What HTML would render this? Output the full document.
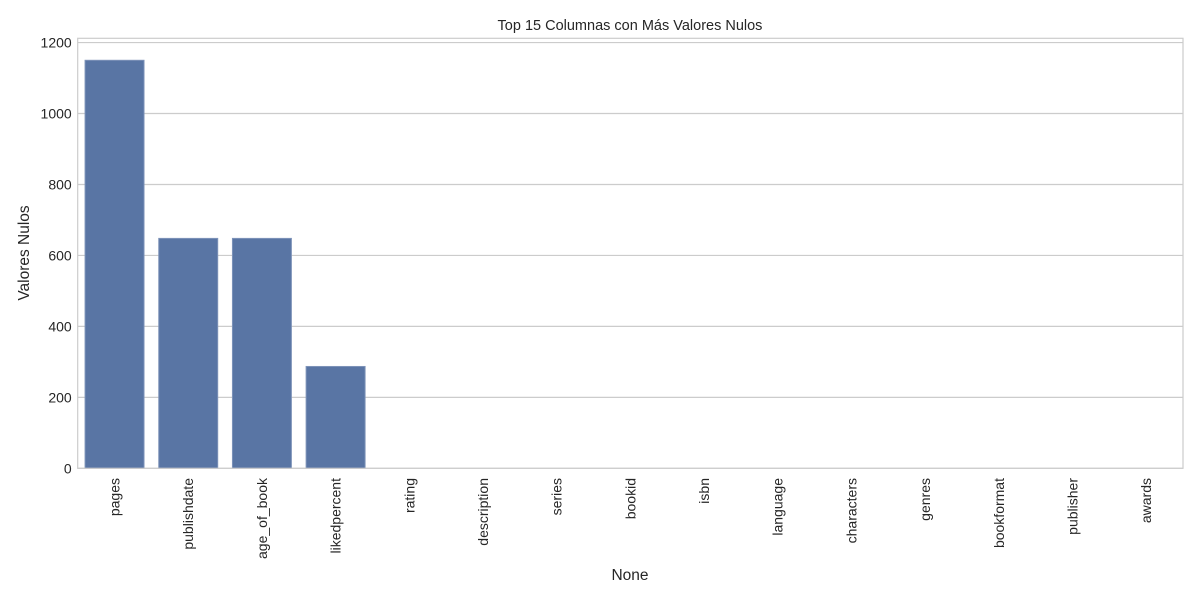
<!DOCTYPE html>
<html><head><meta charset="utf-8"><style>
body{margin:0;background:#fff;font-family:"Liberation Sans",Arial,sans-serif}
svg text{font-family:"Liberation Sans",Arial,sans-serif;fill:#262626}
</style></head><body>
<svg id="chart" width="1200" height="600" xmlns="http://www.w3.org/2000/svg">
<rect width="1200" height="600" fill="#fff"/>
<text x="630" y="30" font-size="14.5" text-anchor="middle">Top 15 Columnas con Más Valores Nulos</text>
<text x="630" y="580" font-size="15.5" text-anchor="middle">None</text>
<text transform="translate(29,253) rotate(-90)" font-size="15.5" text-anchor="middle">Valores Nulos</text>
<g id="grid"></g><g id="bars"></g><g id="ticks"></g>
<rect x="77.7" y="38.3" width="1105.3" height="430" fill="none" stroke="#cccccc" stroke-width="1.2"/>
</svg>
<script>
const categories=["pages","publishdate","age_of_book","likedpercent","rating","description","series","bookid","isbn","language","characters","genres","bookformat","publisher","awards"];
const values=[1150,648,648,287,0,0,0,0,0,0,0,0,0,0,0];
const yTicks=[0,200,400,600,800,1000,1200];
const L=77.7,R=1183,T=38.3,B=468.3,yMax=1212;
const ns="http://www.w3.org/2000/svg";
function y(v){return B-(v/yMax)*(B-T);}
const slot=(R-L)/categories.length;
function x(i){return L+slot*i;}
function mk(t,a,p){const e=document.createElementNS(ns,t);for(const k in a)e.setAttribute(k,a[k]);p.appendChild(e);return e;}
const grid=document.getElementById('grid'),bars=document.getElementById('bars'),ticks=document.getElementById('ticks');
yTicks.forEach(v=>{
 const l=mk('line',{x1:L,x2:R,y1:y(v),y2:y(v),stroke:'#cccccc','stroke-width':1.2},grid);
 
 
 const t=mk('text',{x:L-6,y:y(v)+5,'font-size':14,'text-anchor':'end'},ticks);
 t.textContent=v;
 
 
});
categories.forEach((c,i)=>{
 const r=mk('rect',{x:x(i)+slot*0.1,y:y(values[i]),width:slot*0.8,height:B-y(values[i]),fill:'#5975a4',stroke:'#7d93b9','stroke-width':1},bars);
 
 
 const cx=x(i)+slot/2+5;
 const t=mk('text',{x:cx,y:478,'font-size':14,'text-anchor':'end',transform:`rotate(-90 ${cx} 478)`},ticks);
 t.textContent=c;
 
 
});
</script>
</body></html>
